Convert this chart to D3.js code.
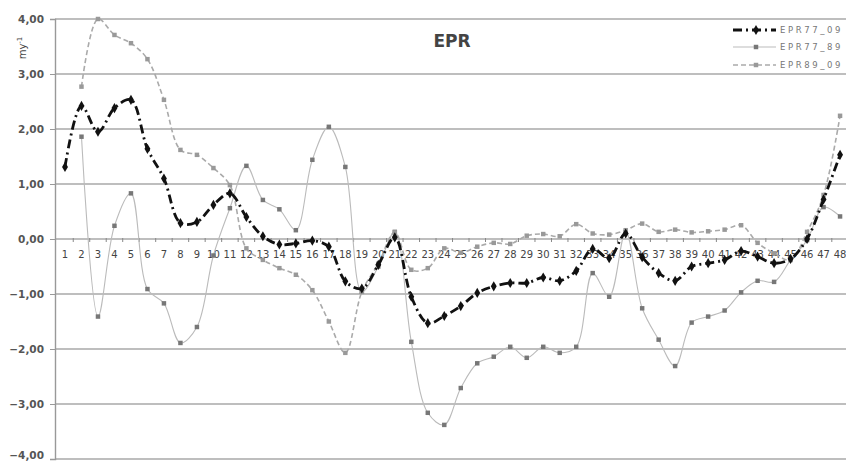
<!DOCTYPE html>
<html>
<head>
<meta charset="utf-8">
<script src="https://cdn.jsdelivr.net/npm/d3@7"></script>
<style>
  body { margin: 0; background: #fff; }
  svg { display: block; font-family: "DejaVu Sans", sans-serif; }
</style>
</head>
<body>
<svg id="chart" width="846" height="461"></svg>
<script>
// sections 1..48
const categories = d3.range(1, 49).map(String);

const epr77_09 = [1.31, 2.42, 1.95, 2.38, 2.53, 1.64, 1.10, 0.29, 0.31, 0.62,
  0.83, 0.40, 0.05, -0.10, -0.08, -0.03, -0.14, -0.77, -0.90, -0.47,
  0.03, -1.05, -1.53, -1.40, -1.22, -0.98, -0.86, -0.80, -0.80, -0.70,
  -0.76, -0.58, -0.18, -0.35, 0.10, -0.33, -0.62, -0.76, -0.50, -0.44,
  -0.38, -0.22, -0.32, -0.44, -0.36, 0.00, 0.72, 1.53];

const epr77_89 = [null, 1.86, -1.41, 0.24, 0.83, -0.91, -1.17, -1.89, -1.60, -0.30,
  0.56, 1.33, 0.71, 0.54, 0.16, 1.44, 2.04, 1.31, -0.96, -0.50,
  0.13, -1.87, -3.16, -3.38, -2.71, -2.26, -2.14, -1.96, -2.16, -1.96,
  -2.07, -1.96, -0.62, -1.05, 0.13, -1.26, -1.83, -2.31, -1.52, -1.41,
  -1.30, -0.97, -0.76, -0.78, -0.38, -0.02, 0.58, 0.41];

const epr89_09 = [null, 2.77, 4.00, 3.71, 3.56, 3.27, 2.53, 1.62, 1.53, 1.29,
  0.98, -0.17, -0.38, -0.53, -0.65, -0.93, -1.50, -2.07, -0.96, -0.45,
  0.12, -0.56, -0.53, -0.17, -0.25, -0.14, -0.07, -0.09, 0.06, 0.09,
  0.05, 0.27, 0.10, 0.08, 0.16, 0.28, 0.13, 0.17, 0.12, 0.14,
  0.17, 0.25, -0.07, -0.26, -0.38, 0.13, 0.80, 2.24];

const yTicks = [4, 3, 2, 1, 0, -1, -2, -3, -4];
const seriesNames = ["EPR77_09", "EPR77_89", "EPR89_09"];

const svg = d3.select("#chart");

const x = d3.scaleBand().domain(categories).range([56.75, 848.3]).padding(0);
const y = d3.scaleLinear().domain([-4, 4]).range([459, 19]);
const cx = c => x(c) + x.bandwidth() / 2;

// grid
svg.append("g").selectAll("line").data(yTicks).join("line")
  .attr("x1", 55).attr("x2", 846)
  .attr("y1", d => y(d)).attr("y2", d => y(d))
  .attr("stroke", "#a8a8a8").attr("stroke-width", 1.4);

// y axis
const yAxis = svg.append("g").attr("transform", "translate(55,0)")
  .call(d3.axisLeft(y).tickValues(yTicks).tickSize(5)
    .tickFormat(d => d3.format(".2f")(d).replace(".", ",")));
yAxis.select(".domain").attr("stroke", "#999").attr("stroke-width", 1.4);
yAxis.selectAll(".tick line").attr("stroke", "#999");
yAxis.selectAll("text").attr("x", -11).attr("font-size", 10.5)
  .attr("font-weight", "bold").attr("fill", "#555")
  .attr("font-family", "DejaVu Sans, sans-serif");
// keep the bottom label inside the picture
yAxis.selectAll(".tick text").filter(d => d === -4).attr("dy", "-0.05em");

// x axis on zero line
const xAxis = svg.append("g").attr("transform", `translate(0,${y(0)})`)
  .call(d3.axisBottom(x).tickSize(0).tickPadding(12));
xAxis.select(".domain").remove();
xAxis.selectAll("text").attr("font-size", 10).attr("fill", "#444")
  .attr("font-family", "DejaVu Sans, sans-serif");
svg.append("g").selectAll("line").data(categories.slice(1)).join("line")
  .attr("x1", d => x(d)).attr("x2", d => x(d))
  .attr("y1", y(0) - 1).attr("y2", y(0) + 3)
  .attr("stroke", "#888").attr("stroke-width", 1);

// title & axis label
svg.append("text").attr("x", 452).attr("y", 47).attr("text-anchor", "middle")
  .attr("font-size", 17).attr("font-weight", "bold").attr("fill", "#444").text("EPR");

const yl = svg.append("text").attr("transform", "translate(26,48) rotate(-90)")
  .attr("text-anchor", "middle").attr("font-size", 10).attr("fill", "#444");
yl.append("tspan").text("my");
yl.append("tspan").attr("dy", -4).attr("font-size", 7).text("-1");

const line = d3.line()
  .defined(d => d.v != null)
  .x(d => cx(d.c)).y(d => y(d.v))
  .curve(d3.curveCatmullRom.alpha(0.5));

const toPts = arr => arr.map((v, i) => ({ c: categories[i], v }));

const styles = [
  { data: epr77_09, stroke: "#111", width: 2.8, dash: "9,4,2,4", mark: "diamond", fill: "#111", size: 30 },
  { data: epr77_89, stroke: "#bbb", width: 1.1, dash: null, mark: "square", fill: "#777", size: 20 },
  { data: epr89_09, stroke: "#aaa", width: 1.6, dash: "5,3", mark: "square", fill: "#999", size: 20 }
];

// draw light series first, black on top
[1, 2, 0].forEach(k => {
  const s = styles[k];
  const pts = toPts(s.data);
  svg.append("path").datum(pts)
    .attr("d", line).attr("fill", "none")
    .attr("stroke", s.stroke).attr("stroke-width", s.width)
    .attr("stroke-dasharray", s.dash);
  const sym = d3.symbol().type(s.mark === "diamond" ? d3.symbolDiamond : d3.symbolSquare).size(s.size);
  svg.append("g").selectAll("path").data(pts.filter(d => d.v != null)).join("path")
    .attr("transform", d => `translate(${cx(d.c)},${y(d.v)})`)
    .attr("d", sym).attr("fill", s.fill);
});

// legend
const lg = svg.append("g");
const rowsY = [30, 47, 65];
styles.forEach((s, i) => {
  const g = lg.append("g").attr("transform", `translate(0,${rowsY[i]})`);
  g.append("line").attr("x1", 733).attr("x2", 776).attr("y1", 0).attr("y2", 0)
    .attr("stroke", s.stroke).attr("stroke-width", s.width)
    .attr("stroke-dasharray", s.dash);
  g.append("path").attr("transform", "translate(756,0)")
    .attr("d", d3.symbol().type(s.mark === "diamond" ? d3.symbolDiamond : d3.symbolSquare).size(s.size))
    .attr("fill", s.fill);
  g.append("text").attr("x", 780).attr("y", 3).attr("font-size", 8.5)
    .attr("letter-spacing", 2.6).attr("fill", "#777").text(seriesNames[i]);
});
</script>
</body>
</html>
